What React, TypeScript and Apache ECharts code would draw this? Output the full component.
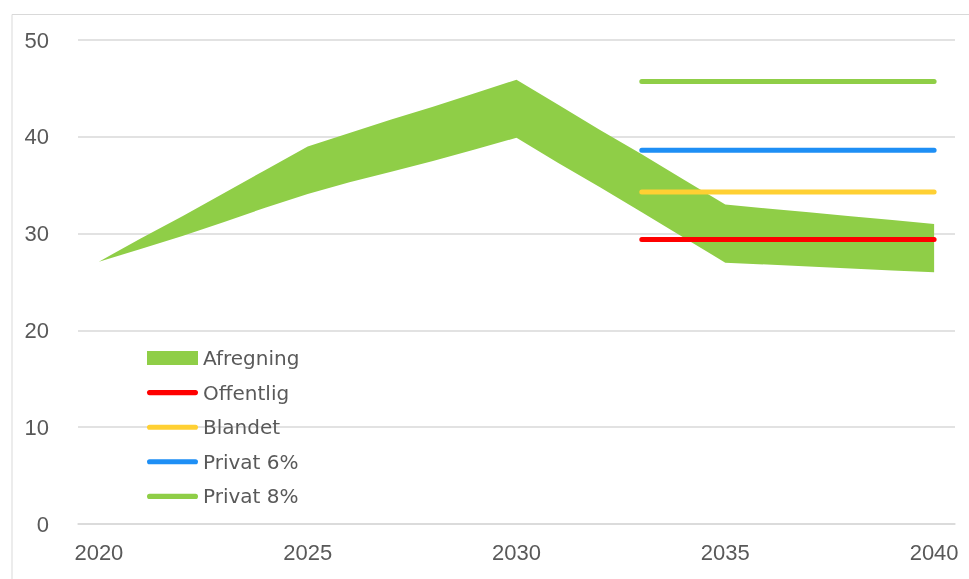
import React, { useEffect, useRef } from "react";
import * as echarts from "echarts";

const years = ["2020","2021","2022","2023","2024","2025","2026","2027","2028","2029","2030","2031","2032","2033","2034","2035","2036","2037","2038","2039","2040"];
const upper = [27.1, 29.5, 31.8, 34.2, 36.6, 39.0, 40.4, 41.8, 43.1, 44.5, 45.9, 43.3, 40.7, 38.2, 35.6, 33.0, 32.6, 32.2, 31.8, 31.4, 31.0];
const lower = [27.1, 28.4, 29.75, 31.2, 32.7, 34.1, 35.3, 36.4, 37.5, 38.7, 39.9, 37.3, 34.8, 32.2, 29.6, 27.0, 26.8, 26.6, 26.4, 26.2, 26.0];
const scenarioStart = "2033";
const offentlig = 29.4;
const blandet = 34.3;
const privat6 = 38.6;
const privat8 = 45.7;

const flatFrom = (v: number) => years.map((y) => (Number(y) >= Number(scenarioStart) ? v : null));

const lineIcon = "path://M2.75,0H52.25A2.75,2.75,0,0,1,52.25,5.5H2.75A2.75,2.75,0,0,1,2.75,0Z";

export default function App() {
  const ref = useRef<HTMLDivElement>(null);
  useEffect(() => {
    if (!ref.current) return;
    const chart = echarts.init(ref.current, null, { renderer: "svg" });
    const axisFont = "'Liberation Sans', sans-serif";
    const legendFont = "'DejaVu Sans', sans-serif";
    const lineSeries = (name: string, color: string, v: number) => ({
      name,
      type: "line",
      data: flatFrom(v),
      symbol: "none",
      lineStyle: { color, width: 5, cap: "round" },
      itemStyle: { color },
      z: 3,
    });
    chart.setOption({
      animation: false,
      graphic: [
        {
          type: "rect",
          left: 9.5,
          top: 12,
          shape: { width: 980, height: 600 },
          style: { fill: "none", stroke: "#d9d9d9", lineWidth: 1 },
          silent: true,
        },
      ],
      grid: { left: 78, right: 14, top: 40, bottom: 55 },
      legend: {
        orient: "vertical",
        left: 142,
        top: 343,
        itemWidth: 51,
        itemHeight: 14,
        itemGap: 14.6,
        symbolKeepAspect: true,
        textStyle: { fontSize: 20, color: "#595959", fontFamily: legendFont },
        data: [
          { name: "Afregning", icon: "rect" },
          { name: "Offentlig", icon: lineIcon },
          { name: "Blandet", icon: lineIcon },
          { name: "Privat 6%", icon: lineIcon },
          { name: "Privat 8%", icon: lineIcon },
        ],
      },
      xAxis: {
        type: "category",
        data: years,
        boundaryGap: true,
        axisLine: { lineStyle: { color: "#d9d9d9", width: 1.5 } },
        axisTick: { interval: 0, length: 5, lineStyle: { color: "#d9d9d9", width: 1.5 } },
        axisLabel: { interval: 4, fontSize: 22, color: "#595959", fontFamily: axisFont, margin: 17 },
      },
      yAxis: {
        type: "value",
        min: 0,
        max: 50,
        interval: 10,
        axisLine: { show: false },
        axisTick: { show: false },
        axisLabel: { fontSize: 22, color: "#595959", fontFamily: axisFont, margin: 29 },
        splitLine: { lineStyle: { color: "#d9d9d9", width: 1.5 } },
      },
      series: [
        {
          name: "lower",
          type: "line",
          stack: "band",
          data: lower,
          symbol: "none",
          lineStyle: { width: 0, opacity: 0 },
          silent: true,
        },
        {
          name: "Afregning",
          type: "line",
          stack: "band",
          data: upper.map((u, i) => +(u - lower[i]).toFixed(2)),
          symbol: "none",
          lineStyle: { width: 0, opacity: 0 },
          itemStyle: { color: "#8fce47" },
          areaStyle: { color: "#8fce47", opacity: 1 },
          z: 2,
        },
        lineSeries("Offentlig", "#ff0000", offentlig),
        lineSeries("Blandet", "#ffd033", blandet),
        lineSeries("Privat 6%", "#1e8ff5", privat6),
        lineSeries("Privat 8%", "#8fce47", privat8),
      ],
    });
    return () => chart.dispose();
  }, []);
  return <div ref={ref} style={{ position: "fixed", left: 0, top: 0, width: 969, height: 579 }} />;
}
